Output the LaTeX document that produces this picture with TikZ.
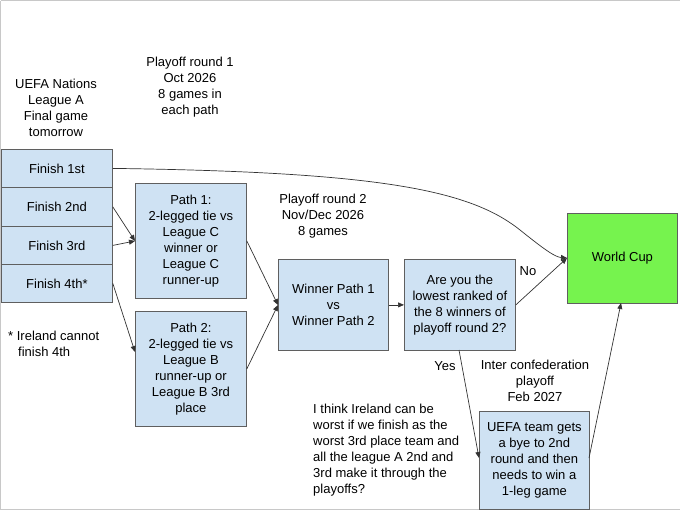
\documentclass[tikz,border=0pt]{standalone}
\usepackage{fontspec}
\setmainfont{Liberation Sans}
\usetikzlibrary{arrows.meta}
\definecolor{boxfill}{HTML}{CFE2F3}
\definecolor{boxline}{HTML}{5F5F5F}
\definecolor{wcgreen}{HTML}{76F34E}
\definecolor{conn}{HTML}{333333}
\definecolor{frame}{HTML}{C8C8C8}
\tikzset{
  box/.style={draw=boxline, fill=boxfill, line width=0.8pt, inner sep=0pt, align=center, font=\fontsize{13}{16}\selectfont, anchor=north west},
  lbl/.style={align=center, inner sep=0pt, font=\fontsize{13}{16}\selectfont},
  conn/.style={draw=conn, line width=0.7pt, -{Triangle[length=6pt,width=5pt]}},
}
\begin{document}
\begin{tikzpicture}[x=1pt,y=-1pt]
\useasboundingbox (0,0) rectangle (680,511);
\fill[white] (0,0) rectangle (680,511);
\draw[frame, line width=1pt] (0.5,1) -- (679.5,1);
\draw[frame, line width=1pt] (0.5,1) -- (0.5,509.5) -- (679.5,509.5);

% Finish boxes
\node[box, minimum width=111pt, minimum height=38pt] (f1) at (1,149) {Finish 1st};
\node[box, minimum width=111pt, minimum height=39pt] (f2) at (1,187) {Finish 2nd};
\node[box, minimum width=111pt, minimum height=38pt] (f3) at (1,226) {Finish 3rd};
\node[box, minimum width=111pt, minimum height=38pt] (f4) at (1,264) {Finish 4th*};

% Paths
\node[box, minimum width=111pt, minimum height=115pt] (p1) at (135,183) {Path 1:\\2-legged tie vs\\League C\\winner or\\League C\\runner-up};
\node[box, minimum width=111pt, minimum height=115pt] (p2) at (135,311) {Path 2:\\2-legged tie vs\\League B\\runner-up or\\League B 3rd\\place};

% Round 2
\node[box, minimum width=110pt, minimum height=91pt] (w) at (278,259) {Winner Path 1\\vs\\Winner Path 2};
\node[box, minimum width=111pt, minimum height=91pt] (q) at (404,259) {Are you the\\lowest ranked of\\the 8 winners of\\playoff round 2?};

% World cup
\node[box, fill=wcgreen, minimum width=110pt, minimum height=90pt] (wc) at (567,213) {World Cup};

% UEFA box
\node[box, minimum width=110pt, minimum height=98pt] (u) at (479,411) {UEFA team gets\\a bye to 2nd\\round and then\\needs to win a\\1-leg game};

% Labels
\node[lbl] (tA) at (56,108) {UEFA Nations\\League A\\Final game\\tomorrow};
\node[lbl] (tR1) at (190,87) {Playoff round 1\\Oct 2026\\8 games in\\each path};
\node[lbl] (tR2) at (323,216) {Playoff round 2\\Nov/Dec 2026\\8 games};
\node[lbl, align=left, anchor=north west] (tIre) at (8,331) {* Ireland cannot\\\hspace{10pt}finish 4th};
\node[lbl] (tNo) at (528,271) {No};
\node[lbl] (tYes) at (445,366) {Yes};
\node[lbl] (tIC) at (535,381) {Inter confederation\\playoff\\Feb 2027};
\node[lbl, align=left, anchor=north west] (tThink) at (313,404) {I think Ireland can be\\worst if we finish as the\\worst 3rd place team and\\all the league A 2nd and\\3rd make it through the\\playoffs?};

% Connectors
\coordinate (p1in) at (135,241);
\coordinate (p2in) at (135,352);
\coordinate (win) at (278,305);
\coordinate (wcin) at (567,258);
\coordinate (qbot) at (459,350);
\coordinate (uin) at (479,458);
\coordinate (uout) at (589,458);
\coordinate (wcbot) at (621,303);

\draw[conn] (f1.east) .. controls (380,172) and (470,190) .. (520,230) .. controls (545,250) and (555,257) .. (wcin);
\draw[conn] (f2.east) -- (p1in);
\draw[conn] (f3.east) -- (p1in);
\draw[conn] (f4.east) -- (p2in);
\draw[conn] (p1.east) -- (win);
\draw[conn] (p2.east) -- (win);
\draw[conn] (w.east) -- (q.west);
\draw[conn] (q.east) -- (wcin);
\draw[conn] (qbot) -- (uin);
\draw[conn] (uout) -- (wcbot);
\end{tikzpicture}
\end{document}
